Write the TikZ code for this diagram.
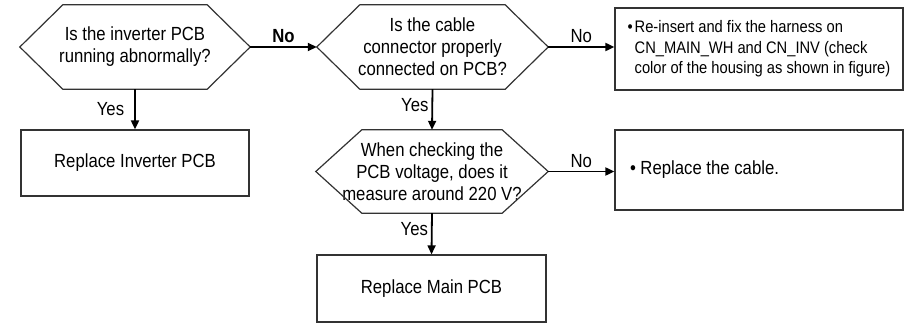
\documentclass[tikz,border=0pt]{standalone}
\usepackage{fontspec}
\setmainfont{Liberation Sans}[FakeStretch=0.88]
\usetikzlibrary{arrows.meta}

\tikzset{
  question/.style={minimum width=230pt, minimum height=84pt, inner sep=0pt, align=center,
    font=\fontsize{19}{22}\selectfont},
  action/.style={draw=black!80, line width=1.2pt, inner sep=0pt, align=center,
    font=\fontsize{19}{22}\selectfont},
  outline/.style={draw=black!80, line width=1.2pt, line join=miter},
  flow/.style={-{Triangle[length=9pt,width=8pt]}, line width=1.8pt},
  answer/.style={font=\fontsize{19}{22}\selectfont, inner sep=2pt}
}

\begin{document}
\begin{tikzpicture}[x=1pt, y=-1pt]
    \useasboundingbox (0,0) rectangle (906,324);

    \node[question] (inv) at (135,47) {Is the inverter PCB\\running abnormally?};
    \node[action, minimum width=228pt, minimum height=66pt] (repinv) at (135,163) {Replace Inverter PCB};
    \node[question, minimum width=231pt] (cable) at (432.5,47) {Is the cable\\connector properly\\connected on PCB?};
    \node[action, minimum width=288pt, minimum height=82pt, align=left,
      font=\fontsize{16.7}{20.5}\selectfont] (harness) at (759,49) {%
      \makebox[7pt][l]{\textbullet}Re-insert and fix the harness on\\
      \hspace*{7pt}CN\_MAIN\_WH and CN\_INV (check\\
      \hspace*{7pt}color of the housing as shown in figure)};
    \node[question, minimum width=232pt, minimum height=83pt] (volt) at (432,171.5) {When checking the\\PCB voltage, does it\\measure around 220 V?};
    \node[action, minimum width=288pt, minimum height=80pt] (cabrep) at (759,170)
      {\makebox[258pt][l]{\textbullet\ Replace the cable.}};
    \node[action, minimum width=229pt, minimum height=67pt] (repmain) at (431.5,288.5) {Replace Main PCB};

    \foreach \q/\d in {inv/43pt, cable/43pt, volt/46pt}
      \draw[outline] ([xshift=\d]\q.north west) -- ([xshift=-\d]\q.north east) -- (\q.east)
        -- ([xshift=-\d]\q.south east) -- ([xshift=\d]\q.south west) -- (\q.west) -- cycle;

    \draw[flow] (inv.east) -- node[answer, above=1pt, font=\fontsize{19}{22}\selectfont\bfseries] {No} (cable.west);
    \draw[flow] (inv.south) -- node[answer, left=8pt] {Yes} (repinv.north);
    \draw[flow] (cable.east) -- node[answer, above=1pt] {No} (cable.east -| harness.west);
    \draw[flow] (cable.south) -- node[answer, left=1pt, pos=0.38] {Yes} (volt.north);
    \draw[flow] (volt.east) -- node[answer, above=1pt] {No} (volt.east -| cabrep.west);
    \draw[flow] (volt.south) -- node[answer, left=1pt, pos=0.38] {Yes} (repmain.north);
  \end{tikzpicture}
\end{document}
